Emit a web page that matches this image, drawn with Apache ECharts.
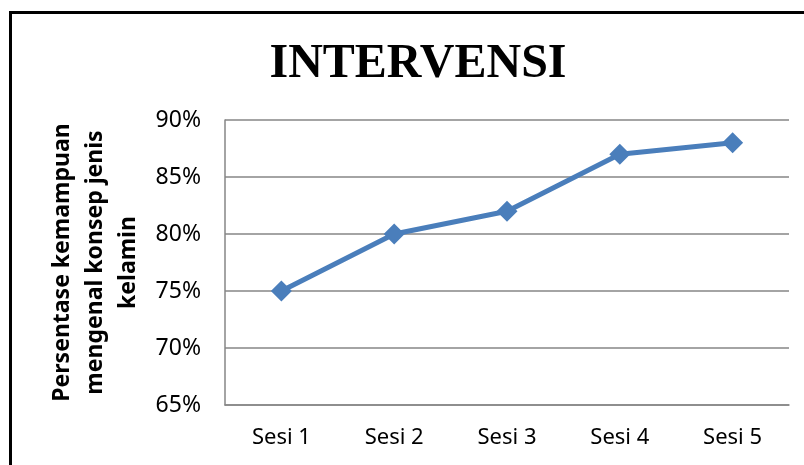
<!DOCTYPE html>
<html>
<head>
<meta charset="utf-8">
<script src="https://cdn.jsdelivr.net/npm/echarts@6/dist/echarts.min.js"></script>
<style>
  html, body { margin: 0; padding: 0; background: #fff; }
  #chart { width: 804px; height: 465px; }
</style>
</head>
<body>
<div id="chart"></div>
<script>
// data
var categories = ['Sesi 1', 'Sesi 2', 'Sesi 3', 'Sesi 4', 'Sesi 5'];
var persentase = [75, 80, 82, 87, 88];
var yTicks = { min: 65, max: 90, step: 5 };

var chart = echarts.init(document.getElementById('chart'));
var option = {
  backgroundColor: '#fff',
  animation: false,
  title: {
    text: 'INTERVENSI',
    left: 413,
    top: 60,
    textAlign: 'center',
    textVerticalAlign: 'middle',
    textStyle: {
      fontFamily: 'Liberation Serif',
      fontWeight: 'bold',
      fontSize: 48,
      color: '#000'
    }
  },
  graphic: [{
    type: 'rect',
    shape: { x: 10.5, y: 12.5, width: 900, height: 600 },
    style: { fill: 'none', stroke: '#000', lineWidth: 3 },
    silent: true
  }],
  grid: { left: 225, top: 120, right: 15, bottom: 60 },
  xAxis: {
    type: 'category',
    data: categories,
    boundaryGap: true,
    axisLine: { lineStyle: { color: '#868686', width: 1.5 } },
    axisTick: { show: false },
    axisLabel: {
      margin: 22,
      color: '#000',
      fontFamily: 'Noto Sans',
      fontSize: 22
    }
  },
  yAxis: {
    type: 'value',
    min: yTicks.min,
    max: yTicks.max,
    interval: yTicks.step,
    name: 'Persentase kemampuan\nmengenal konsep jenis\nkelamin',
    nameLocation: 'middle',
    nameGap: 80,
    nameRotate: 90,
    nameTextStyle: {
      fontFamily: 'Noto Sans',
      fontWeight: 'bold',
      fontSize: 23,
      lineHeight: 33,
      color: '#000',
      align: 'center'
    },
    axisLine: { show: true, lineStyle: { color: '#868686', width: 1.5 } },
    axisTick: { show: false },
    splitLine: { lineStyle: { color: '#868686', width: 1.5 } },
    axisLabel: {
      margin: 24,
      color: '#000',
      fontFamily: 'Noto Sans',
      fontSize: 23,
      formatter: '{value}%'
    }
  },
  series: [{
    type: 'line',
    data: persentase,
    symbol: 'diamond',
    symbolSize: 21,
    lineStyle: { color: '#4A7EBB', width: 5 },
    itemStyle: { color: '#4A7EBB' }
  }]
};
chart.setOption(option);
</script>
</body>
</html>
